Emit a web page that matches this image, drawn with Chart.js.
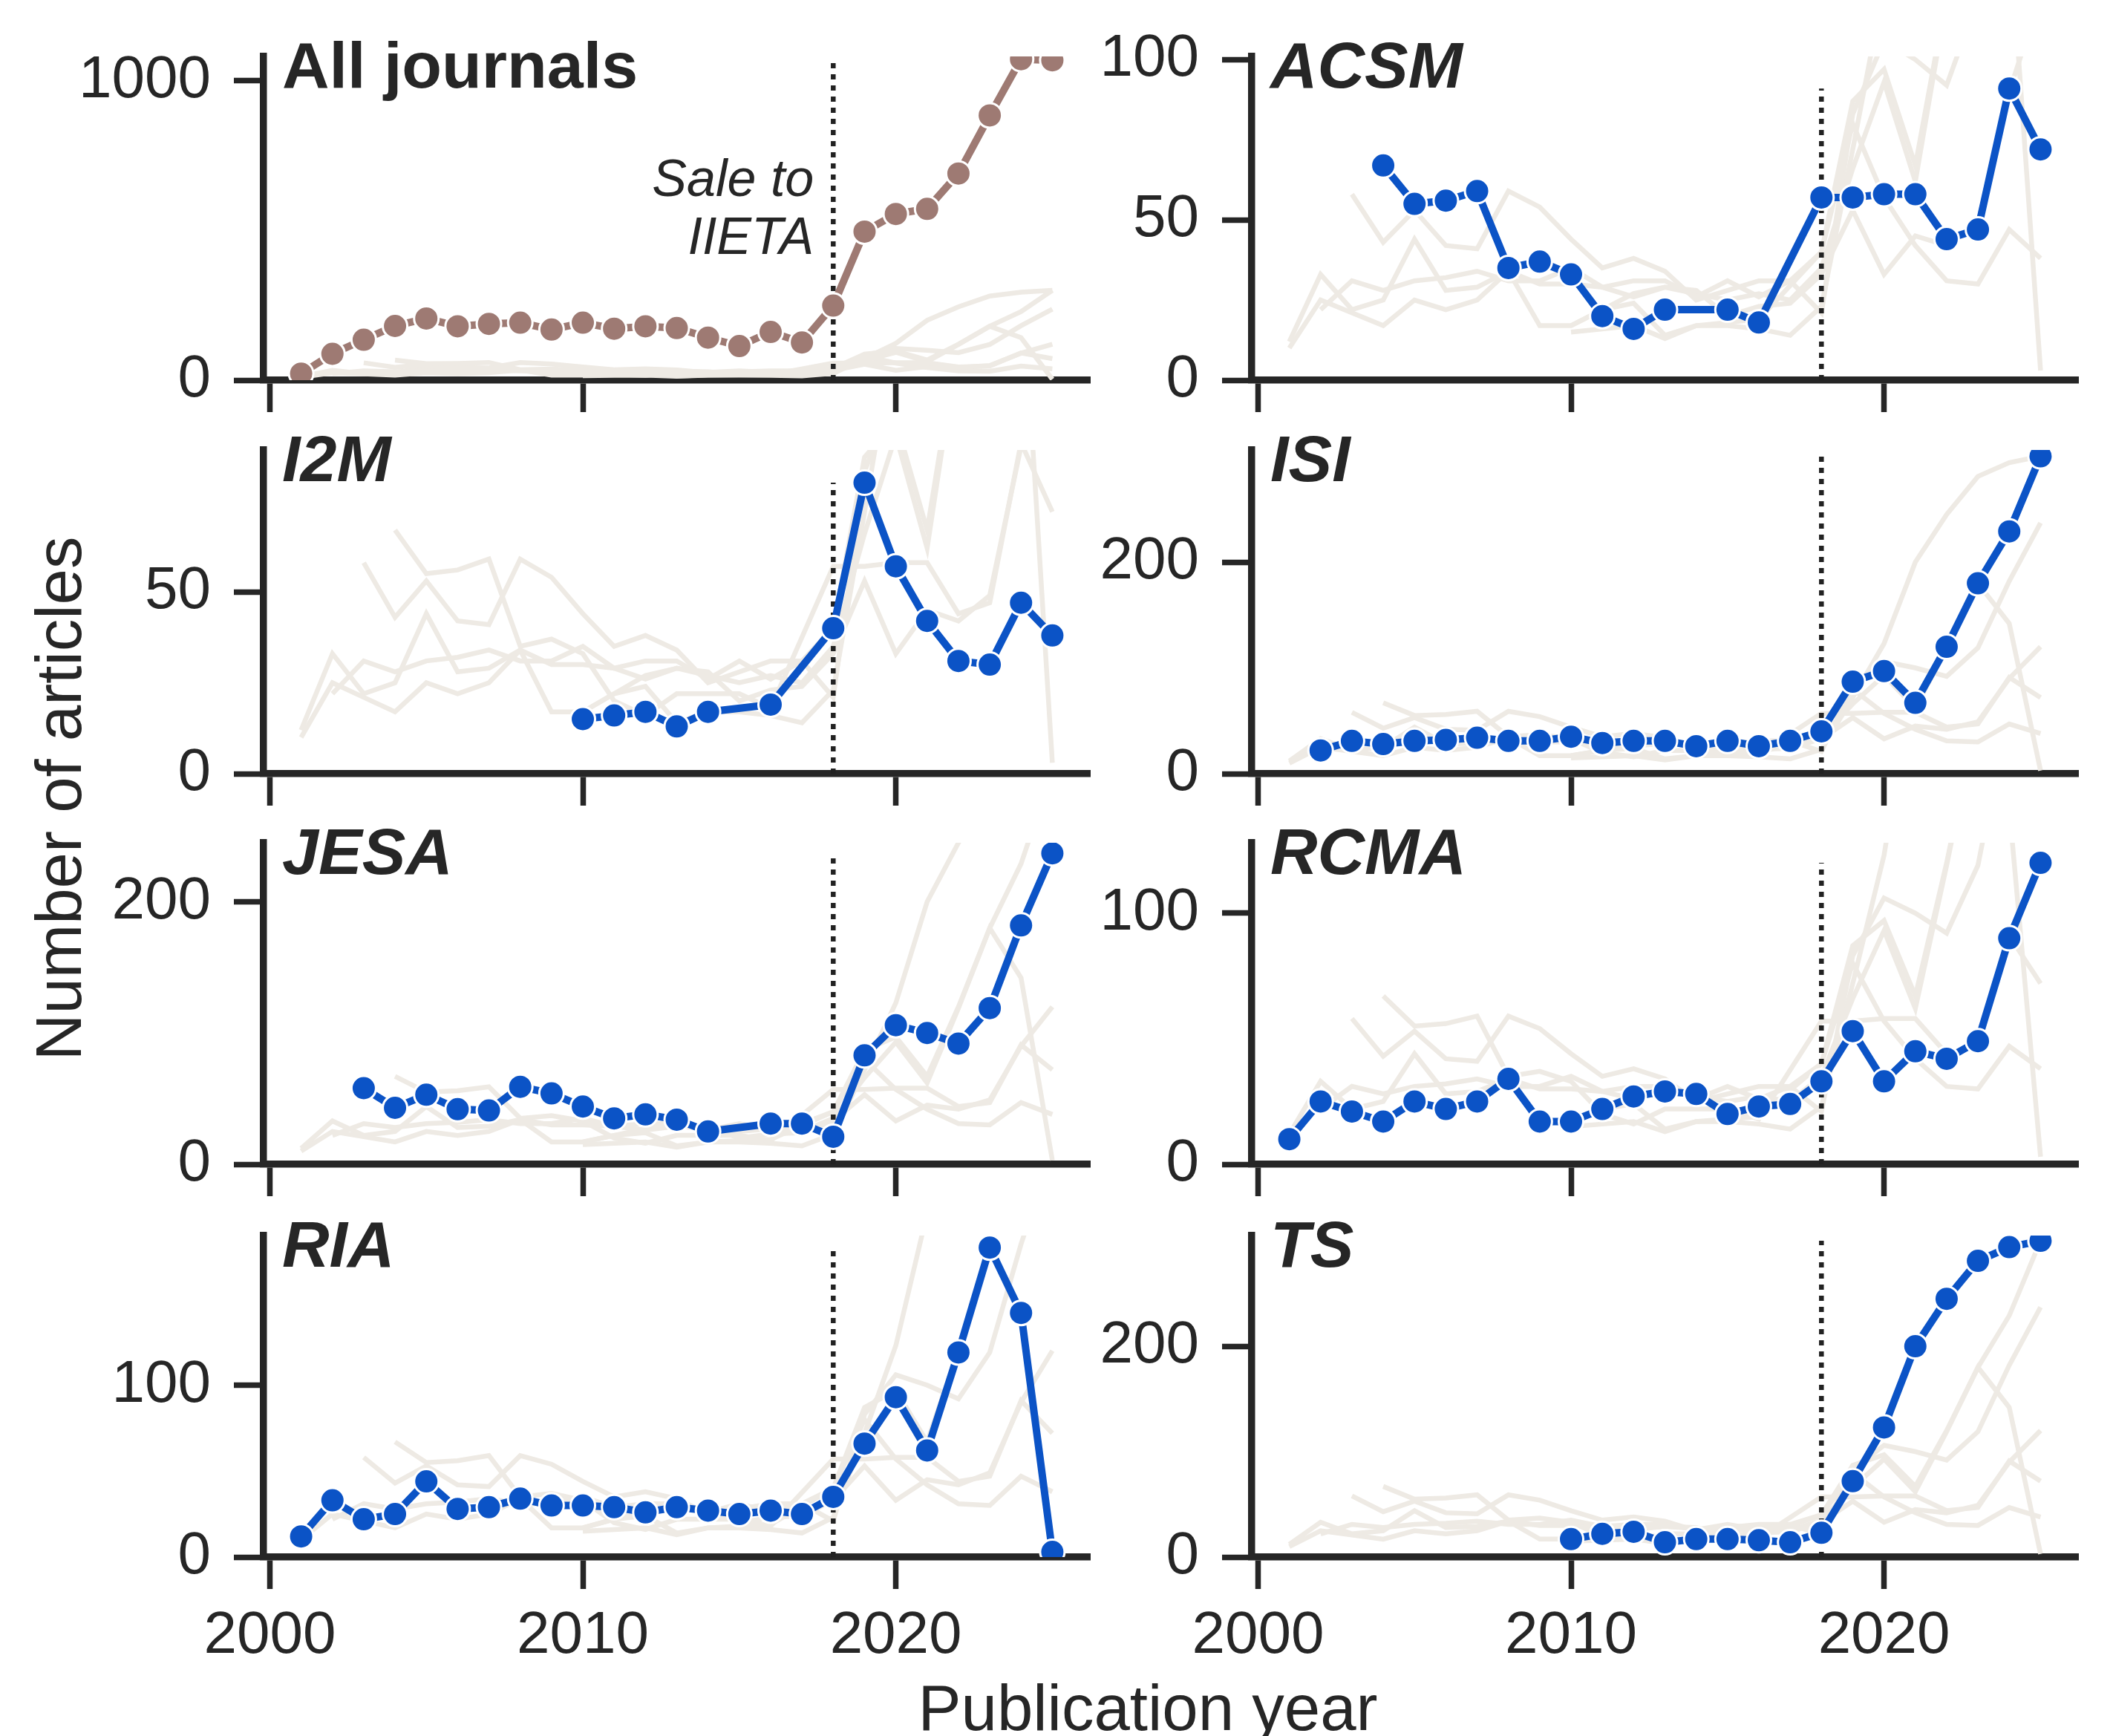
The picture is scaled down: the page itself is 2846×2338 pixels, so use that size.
<!DOCTYPE html>
<html>
<head>
<meta charset="utf-8">
<script src="https://cdn.jsdelivr.net/npm/chart.js@4.4.1/dist/chart.umd.min.js"></script>
<style>
  html, body { margin: 0; padding: 0; background: #fff; }
  body { position: relative; width: 2846px; height: 2338px; overflow: hidden; }
  canvas { position: absolute; }
  .lbl {
    position: absolute;
    font-family: "Liberation Sans", Arial, sans-serif;
    font-size: 87px;
    line-height: 87px;
    height: 87px;
    color: #262626;
    text-align: center;
    white-space: nowrap;
  }
</style>
</head>
<body>
<div class="lbl" style="left:946px; top:2256px; width:1200px;">Publication year</div>
<div class="lbl" style="left:-422px; top:1032px; width:1000px; transform:rotate(-90deg);">Number of articles</div>
<script>
// data, one value per year (null = no issue that year)
const years = [2001, 2002, 2003, 2004, 2005, 2006, 2007, 2008, 2009, 2010, 2011, 2012, 2013,
               2014, 2015, 2016, 2017, 2018, 2019, 2020, 2021, 2022, 2023, 2024, 2025];

const allJournals = [22, 88, 135, 181, 206, 180, 188, 192, 169, 192, 172, 180, 174,
                     142, 114, 161, 126, 249, 496, 555, 572, 690, 884, 1072, 1068];
const acsm = [null, null, null, 67, 55, 56, 59, 35, 37, 33, 20, 16, 22,
              null, 22, 18, null, 57, 57, 58, 58, 44, 47, 91, 72];
const i2m  = [null, null, null, null, null, null, null, null, null, 15, 16, 17, 13,
              17, null, 19, null, 40, 80, 57, 42, 31, 30, 47, 38];
const isi  = [null, 22, 31, 28, 31, 32, 34, 31, 31, 35, 29, 31, 31,
              26, 31, 26, 31, 40, 87, 97, 67, 120, 180, 229, 300];
const jesa = [null, null, 58, 43, 53, 42, 41, 59, 54, 44, 35, 38, 34,
              25, null, 31, 31, 21, 83, 106, 100, 92, 119, 182, 237];
const rcma = [10, 25, 21, 17, 25, 22, 25, 34, 17, 17, 22, 27, 29,
              28, 20, 23, 24, 33, 53, 33, 45, 42, 49, 90, 120];
const ria  = [12, 33, 22, 25, 44, 28, 29, 34, 30, 30, 29, 26, 29,
              27, 25, 27, 25, 35, 66, 93, 62, 119, 180, 142, 3];
const ts   = [null, null, null, null, null, null, null, null, null, 17, 22, 24, 14,
              17, 17, 16, 14, 23, 72, 123, 200, 245, 281, 294, 300];

const journalData = [acsm, i2m, isi, jesa, rcma, ria, ts];
const panelTitles = ["All journals", "ACSM", "I2M", "ISI", "JESA", "RCMA", "RIA", "TS"];
const panelMax = [1081, 101, 89, 306, 245, 128, 187, 305];
const panelYTicks = [[0, 1000], [0, 50, 100], [0, 50], [0, 200], [0, 200], [0, 100], [0, 100], [0, 200]];
const xTicks = [2000, 2010, 2020];
const saleYear = 2018;
const saleLabel = ["Sale to", "IIETA"];

// look
const ink = "#262626";
const grey = "#eeeae4";
const blue = "#0b53c6";
const brown = "#9e7a73";
const fontFam = '"Liberation Sans", Arial, sans-serif';

// panel boxes (plot area, px)
const colLeft = [355, 1686];
const colRight = [1468, 2799];
const rowTop = [76, 606, 1135, 1664];
const rowBottom = [512, 1042, 1568, 2097];
// padT must stay above half a tick label + tick padding, else Chart.js shrinks the area
const padL = 320, padT = 90, padR = 30, padB = 200;

function pts(arr) {
  return years.map((yr, i) => ({ x: yr, y: arr[i] }));
}

// panel title + annotation
const titlePlugin = {
  id: "panelTitle",
  afterDraw(chart, args, opts) {
    const ctx = chart.ctx;
    const area = chart.chartArea;
    ctx.save();
    ctx.fillStyle = ink;
    ctx.textBaseline = "alphabetic";
    ctx.textAlign = "left";
    ctx.font = (opts.italic ? "italic " : "") + "bold 88px " + fontFam;
    ctx.fillText(opts.text, area.left + 25, area.top + 42);
    if (opts.note) {
      const xs = chart.scales.x.getPixelForValue(saleYear) - 26;
      ctx.font = "italic 70px " + fontFam;
      ctx.textAlign = "right";
      ctx.fillText(saleLabel[0], xs, area.top + 188);
      ctx.fillText(saleLabel[1], xs, area.top + 266);
    }
    ctx.restore();
  }
};

function makePanel(idx) {
  const col = idx % 2;
  const row = Math.floor(idx / 2);
  const L = colLeft[col], R = colRight[col], T = rowTop[row], B = rowBottom[row];
  const w = R - L + padL + padR;
  const h = B - T + padT + padB;

  const canvas = document.createElement("canvas");
  canvas.width = w;
  canvas.height = h;
  canvas.style.left = (L - padL) + "px";
  canvas.style.top = (T - padT) + "px";
  canvas.style.width = w + "px";
  canvas.style.height = h + "px";
  document.body.appendChild(canvas);

  const series = idx === 0 ? allJournals : journalData[idx - 1];
  const mainColor = idx === 0 ? brown : blue;
  const seriesMax = Math.max(...series.filter(v => v !== null));

  const datasets = [];
  datasets.push({
    data: pts(series),
    borderColor: mainColor,
    backgroundColor: mainColor,
    borderWidth: 10,
    pointRadius: 16.5,
    pointBackgroundColor: mainColor,
    pointBorderColor: "#ffffff",
    pointBorderWidth: 3,
    spanGaps: true,
    order: 0
  });
  datasets.push({
    data: [{ x: saleYear, y: 0 }, { x: saleYear, y: seriesMax }],
    borderColor: "#222222",
    borderWidth: 6.5,
    borderDash: [7, 8],
    pointRadius: 0,
    order: 1
  });
  journalData.forEach(d => {
    datasets.push({
      data: pts(d),
      borderColor: grey,
      borderWidth: 6.5,
      pointRadius: 0,
      spanGaps: true,
      order: 2
    });
  });

  const yTicks = panelYTicks[idx];

  const chart = new Chart(canvas, {
    type: "line",
    data: { datasets: datasets },
    plugins: [titlePlugin],
    options: {
      responsive: false,
      animation: false,
      devicePixelRatio: 1,
      events: [],
      layout: { padding: { left: 0, top: padT, right: padR, bottom: 0 } },
      elements: { line: { tension: 0 } },
      plugins: {
        legend: { display: false },
        tooltip: { enabled: false },
        panelTitle: { text: panelTitles[idx], italic: idx !== 0, note: idx === 0 }
      },
      scales: {
        x: {
          type: "linear",
          min: 1999.8,
          max: 2026.2,
          z: 1,
          afterBuildTicks: a => { a.ticks = xTicks.map(v => ({ value: v })); },
          afterFit: s => { s.height = padB; },
          grid: { drawOnChartArea: false, drawTicks: true, tickLength: 43, tickWidth: 7.5, tickColor: ink },
          border: { display: true, color: ink, width: 9.5 },
          ticks: {
            color: ink,
            font: { family: fontFam, size: 80 },
            padding: 16,
            maxRotation: 0,
            autoSkip: false,
            callback: v => (row === 3 ? String(v) : "")
          }
        },
        y: {
          type: "linear",
          min: 0,
          max: panelMax[idx],
          z: 1,
          afterBuildTicks: a => { a.ticks = yTicks.map(v => ({ value: v })); },
          afterFit: s => { s.width = padL; },
          grid: { drawOnChartArea: false, drawTicks: true, tickLength: 40, tickWidth: 7.5, tickColor: ink },
          border: { display: true, color: ink, width: 9.5 },
          ticks: {
            color: ink,
            font: { family: fontFam, size: 80 },
            padding: 31,
            autoSkip: false,
            callback: v => String(v)
          }
        }
      }
    }
  });

  // if the layout still moved the plot area, nudge the padding once
  const dTop = chart.chartArea.top - padT;
  const dRight = (w - padR) - chart.chartArea.right;
  if (dTop !== 0 || dRight !== 0) {
    chart.options.layout.padding.top = padT - dTop;
    chart.options.layout.padding.right = padR - dRight;
    chart.update();
  }
}

for (let i = 0; i < 8; i++) {
  makePanel(i);
}
</script>
</body>
</html>
